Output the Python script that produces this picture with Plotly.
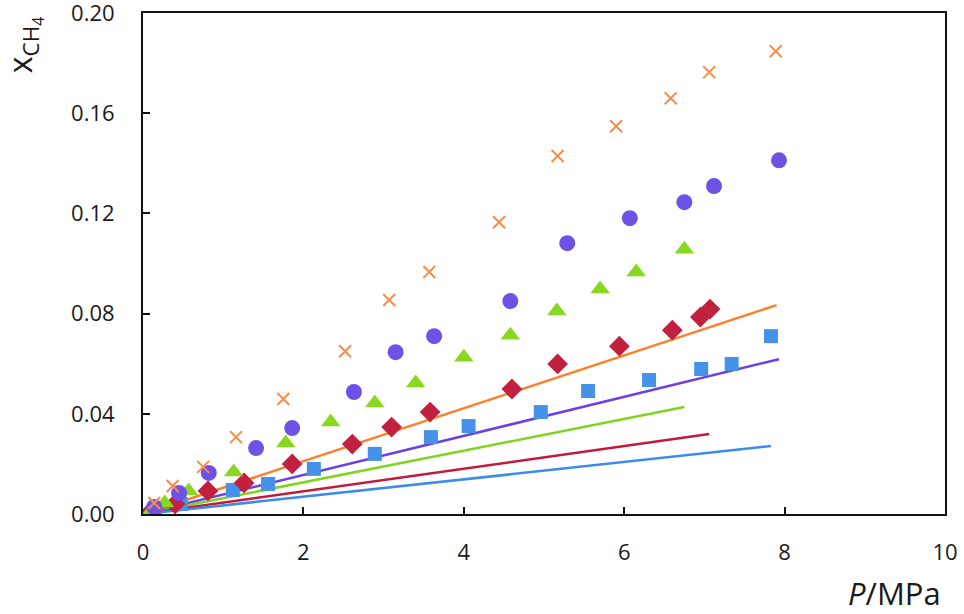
import plotly.graph_objects as go

# Experimental data (P / MPa, x_CH4)
cross_p = [0.14, 0.37, 0.75, 1.16, 1.75, 2.52, 3.07, 3.57, 4.44, 5.17, 5.90, 6.58, 7.06, 7.89]
cross_x = [0.0044, 0.0112, 0.0188, 0.0307, 0.0459, 0.0650, 0.0854, 0.0966, 0.1165, 0.1429, 0.1548, 0.1660, 0.1764, 0.1847]

circ_p = [0.14, 0.45, 0.82, 1.41, 1.86, 2.63, 3.15, 3.63, 4.58, 5.29, 6.07, 6.75, 7.12, 7.93]
circ_x = [0.0028, 0.0084, 0.0164, 0.0263, 0.0343, 0.0487, 0.0646, 0.0710, 0.0850, 0.1081, 0.1181, 0.1245, 0.1309, 0.1412]

tri_p = [0.09, 0.27, 0.57, 1.13, 1.78, 2.34, 2.89, 3.40, 4.00, 4.58, 5.16, 5.70, 6.15, 6.75]
tri_x = [0.0008, 0.0044, 0.0092, 0.0168, 0.0283, 0.0367, 0.0443, 0.0523, 0.0626, 0.0714, 0.0810, 0.0898, 0.0966, 0.1057]

dia_p = [0.10, 0.40, 0.81, 1.26, 1.86, 2.61, 3.10, 3.58, 4.60, 5.17, 5.94, 6.60, 6.95, 7.07]
dia_x = [0.0010, 0.0040, 0.0092, 0.0124, 0.0200, 0.0279, 0.0347, 0.0407, 0.0499, 0.0599, 0.0670, 0.0734, 0.0786, 0.0818]

sq_p = [0.15, 0.47, 1.12, 1.56, 2.13, 2.89, 3.59, 4.06, 4.96, 5.55, 6.31, 6.96, 7.34, 7.83]
sq_x = [0.0004, 0.0040, 0.0096, 0.0120, 0.0180, 0.0240, 0.0307, 0.0351, 0.0407, 0.0491, 0.0535, 0.0579, 0.0599, 0.0710]

# Model lines (start, end)
orange_line_p = [0.10, 7.90]
orange_line_x = [0.0010, 0.0834]
purple_line_p = [0.10, 7.93]
purple_line_x = [0.0008, 0.0618]
green_line_p = [0.10, 6.75]
green_line_x = [0.0006, 0.0427]
red_line_p = [0.10, 7.06]
red_line_x = [0.0005, 0.0319]
blue_line_p = [0.10, 7.83]
blue_line_x = [0.0003, 0.0271]

x_ticks = [0, 2, 4, 6, 8, 10]
x_ticklabels = ["0", "2", "4", "6", "8", "10"]
y_ticks = [0, 0.04, 0.08, 0.12, 0.16, 0.20]
y_ticklabels = ["0.00", "0.04", "0.08", "0.12", "0.16", "0.20"]

fig = go.Figure()

for xs, ys, c in [
    (orange_line_p, orange_line_x, "#FF7F27"),
    (purple_line_p, purple_line_x, "#6A40E6"),
    (green_line_p, green_line_x, "#80D420"),
    (red_line_p, red_line_x, "#C11B3A"),
    (blue_line_p, blue_line_x, "#3C8BEA"),
]:
    fig.add_trace(go.Scatter(x=xs, y=ys, mode="lines", line=dict(color=c, width=2.5),
                             showlegend=False, hoverinfo="skip"))

fig.add_trace(go.Scatter(x=sq_p, y=sq_x, mode="markers",
                         marker=dict(symbol="square", size=14, color="#4592E8"), showlegend=False))
fig.add_trace(go.Scatter(x=dia_p, y=dia_x, mode="markers",
                         marker=dict(symbol="diamond", size=16, color="#C1213E"), showlegend=False))
fig.add_trace(go.Scatter(x=tri_p, y=tri_x, mode="markers",
                         marker=dict(symbol="triangle-up", size=17, color="#88D820"), showlegend=False))
fig.add_trace(go.Scatter(x=circ_p, y=circ_x, mode="markers",
                         marker=dict(symbol="circle", size=16, color="#6E52E6"), showlegend=False))
fig.add_trace(go.Scatter(x=cross_p, y=cross_x, mode="markers",
                         marker=dict(symbol="x-thin", size=12, color="#F98B4A",
                                     line=dict(color="#F98B4A", width=2)), showlegend=False))

axis_font = dict(family="Open Sans, Noto Sans, sans-serif", size=22, color="#1a1a1a")

fig.update_xaxes(range=[0, 10], tickvals=x_ticks, ticktext=x_ticklabels,
                 showgrid=False, zeroline=False, showline=True, linecolor="#111111", linewidth=2,
                 mirror=True, ticks="inside", ticklen=7, tickwidth=1.5, tickcolor="#111111",
                 tickfont=axis_font, ticklabelstandoff=18, automargin=False,
                 ticklabeloverflow="allow")
fig.update_yaxes(range=[0, 0.2], tickvals=y_ticks, ticktext=y_ticklabels,
                 showgrid=False, zeroline=False, showline=True, linecolor="#111111", linewidth=2,
                 mirror=True, ticks="inside", ticklen=7, tickwidth=1.5, tickcolor="#111111",
                 tickfont=axis_font, ticklabelstandoff=22, automargin=False,
                 ticklabeloverflow="allow")

fig.add_annotation(xref="paper", yref="paper", x=-0.15, y=0.995, xanchor="center", yanchor="top",
                   text="x<sub>CH<sub>4</sub></sub>", textangle=-90, showarrow=False,
                   font=dict(family="Open Sans, Noto Sans, sans-serif", size=32, color="#1a1a1a"))
fig.add_annotation(xref="paper", yref="paper", x=0.998, y=-0.158, xanchor="right", yanchor="middle",
                   text="<i>P</i>/MPa", showarrow=False,
                   font=dict(family="Open Sans, Noto Sans, sans-serif", size=31, color="#1a1a1a"))

fig.update_layout(width=964, height=614, margin=dict(l=143, r=19, t=13, b=100),
                  plot_bgcolor="white", paper_bgcolor="white")

# remove the page's default body margin so the figure fills the window exactly
fig.write_html("out.html", config={"displayModeBar": False},
               post_script="document.body.style.margin='0';")
